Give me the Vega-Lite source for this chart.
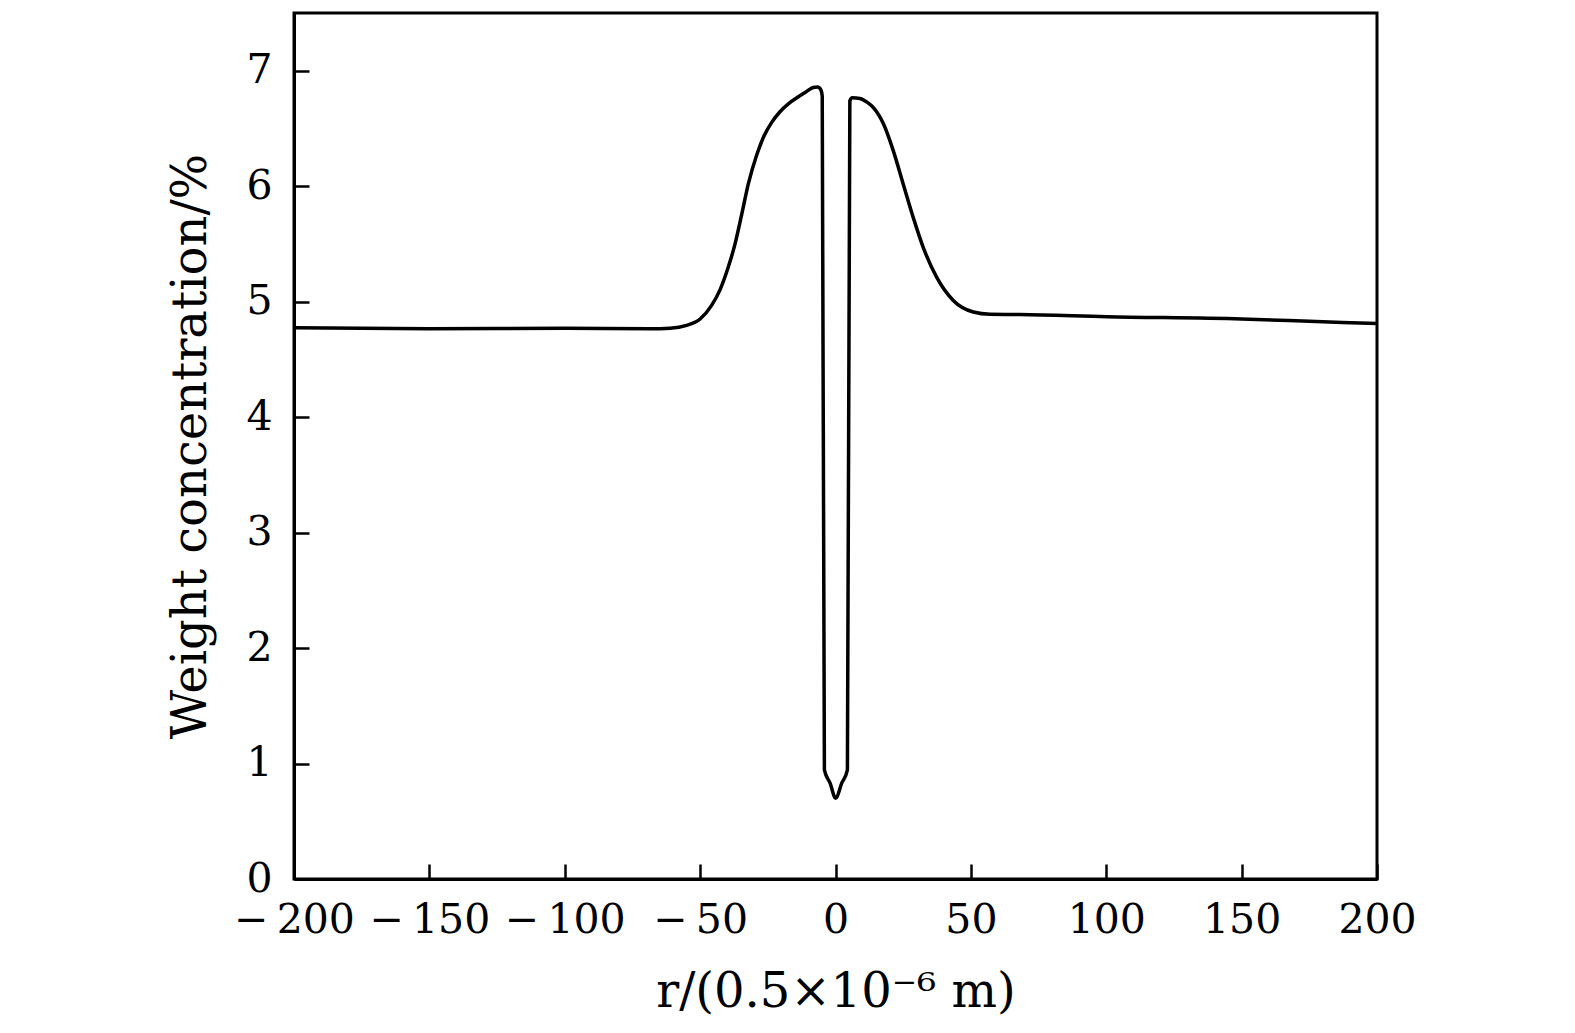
{
  "$schema": "https://vega.github.io/schema/vega-lite/v6.json",
  "width": 1083,
  "height": 866,
  "autosize": {"type": "none"},
  "padding": {"left": 294, "top": 13, "right": 198, "bottom": 154},
  "background": "white",
  "config": {
    "view": {"stroke": "black", "strokeWidth": 3},
    "axis": {
      "labelFont": "DejaVu Serif",
      "titleFont": "DejaVu Serif",
      "labelFontSize": 41,
      "titleFontSize": 48,
      "labelColor": "black",
      "titleColor": "black",
      "titleFontWeight": "normal",
      "domainColor": "black",
      "domainWidth": 3,
      "tickColor": "black",
      "tickWidth": 2.5,
      "tickSize": -15,
      "grid": false
    }
  },
  "data": {"values": [
    {"i": 1, "r": -200, "v": 4.775},
    {"i": 2, "r": -150, "v": 4.765},
    {"i": 3, "r": -100, "v": 4.77},
    {"i": 4, "r": -68.5, "v": 4.765},
    {"i": 5, "r": -61.1, "v": 4.77},
    {"i": 6, "r": -55.0, "v": 4.795},
    {"i": 7, "r": -50.0, "v": 4.85},
    {"i": 8, "r": -45.7, "v": 4.97},
    {"i": 9, "r": -42.7, "v": 5.1},
    {"i": 10, "r": -39.6, "v": 5.3},
    {"i": 11, "r": -37.1, "v": 5.5},
    {"i": 12, "r": -34.6, "v": 5.76},
    {"i": 13, "r": -32.2, "v": 6.02},
    {"i": 14, "r": -29.1, "v": 6.27},
    {"i": 15, "r": -26.5, "v": 6.43},
    {"i": 16, "r": -23.5, "v": 6.555},
    {"i": 17, "r": -20.5, "v": 6.645},
    {"i": 18, "r": -17.3, "v": 6.715},
    {"i": 19, "r": -14.0, "v": 6.77},
    {"i": 20, "r": -11.0, "v": 6.815},
    {"i": 21, "r": -8.2, "v": 6.855},
    {"i": 22, "r": -6.6, "v": 6.86},
    {"i": 23, "r": -5.4, "v": 6.835},
    {"i": 24, "r": -4.9, "v": 6.78},
    {"i": 25, "r": -4.1, "v": 0.945},
    {"i": 26, "r": -2.0, "v": 0.83},
    {"i": 27, "r": 0.05, "v": 0.7},
    {"i": 28, "r": 2.3, "v": 0.83},
    {"i": 29, "r": 4.4, "v": 0.945},
    {"i": 30, "r": 5.3, "v": 6.74},
    {"i": 31, "r": 6.2, "v": 6.765},
    {"i": 32, "r": 9.0, "v": 6.76},
    {"i": 33, "r": 11.5, "v": 6.73},
    {"i": 34, "r": 14.0, "v": 6.68},
    {"i": 35, "r": 17.7, "v": 6.54},
    {"i": 36, "r": 21.3, "v": 6.31},
    {"i": 37, "r": 25.0, "v": 6.02},
    {"i": 38, "r": 28.7, "v": 5.73},
    {"i": 39, "r": 32.4, "v": 5.47},
    {"i": 40, "r": 37.4, "v": 5.21},
    {"i": 41, "r": 43.5, "v": 5.01},
    {"i": 42, "r": 50.9, "v": 4.91},
    {"i": 43, "r": 57.1, "v": 4.89},
    {"i": 44, "r": 68.1, "v": 4.888},
    {"i": 45, "r": 100, "v": 4.87},
    {"i": 46, "r": 150, "v": 4.85},
    {"i": 47, "r": 175, "v": 4.83},
    {"i": 48, "r": 200, "v": 4.81}
  ]},
  "mark": {"type": "line", "color": "black", "strokeWidth": 3.5, "interpolate": "monotone", "clip": true},
  "encoding": {
    "x": {
      "field": "r", "type": "quantitative",
      "scale": {"domain": [-200, 200], "nice": false, "zero": false},
      "axis": {"values": [-200, -150, -100, -50, 0, 50, 100, 150, 200], "title": "r/(0.5×10⁻⁶ m)", "labelPadding": 36, "titlePadding": 28, "labelFlush": false,
        "labelExpr": "datum.value < 0 ? '−\u2009' + format(-datum.value, 'd') : datum.label"}
    },
    "y": {
      "field": "v", "type": "quantitative",
      "scale": {"domain": [0, 7.5], "nice": false},
      "axis": {"values": [0, 1, 2, 3, 4, 5, 6, 7], "title": "Weight concentration/%", "labelPadding": 37, "titlePadding": 30}
    },
    "order": {"field": "i", "type": "quantitative"}
  }
}
